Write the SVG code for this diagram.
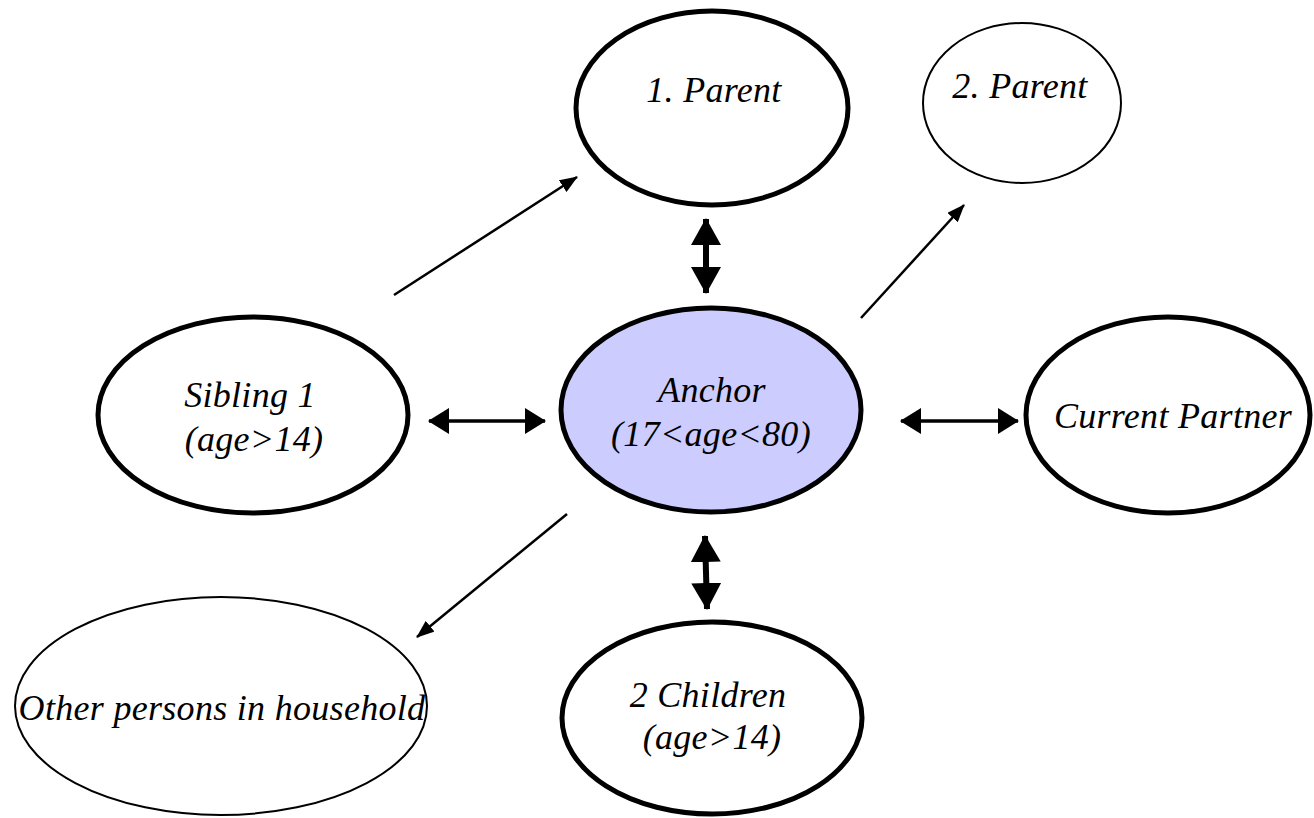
<svg xmlns="http://www.w3.org/2000/svg" width="1314" height="818" viewBox="0 0 1314 818">
<style>
.thick{fill:#fff;stroke:#000;stroke-width:5}
.thin{fill:#fff;stroke:#000;stroke-width:2}
.anchor{fill:#ccccff;stroke:#000;stroke-width:5}
.ln{stroke:#000;fill:none}
</style>
<defs>
<marker id="ah" markerUnits="userSpaceOnUse" viewBox="0 0 18 14" refX="17" refY="7" markerWidth="18" markerHeight="14" orient="auto"><path d="M0,0 L18,7 L0,14 z" fill="#000"/></marker>
<marker id="bv" markerUnits="userSpaceOnUse" viewBox="0 0 27 30" refX="26" refY="15" markerWidth="27" markerHeight="30" orient="auto-start-reverse"><path d="M0,0 L27,15 L0,30 z" fill="#000"/></marker>
<marker id="bh" markerUnits="userSpaceOnUse" viewBox="0 0 21 26" refX="20" refY="13" markerWidth="21" markerHeight="26" orient="auto-start-reverse"><path d="M0,0 L21,13 L0,26 z" fill="#000"/></marker>
</defs>
<g font-family="Liberation Serif, DejaVu Serif, serif" font-style="italic" font-size="36" text-anchor="middle" fill="#000" letter-spacing="0.3">
<g id="parent1"><ellipse class="thick" cx="712" cy="108" rx="136" ry="97"/><text x="714" y="102">1. Parent</text></g>
<g id="parent2"><ellipse class="thin" cx="1022" cy="103" rx="99" ry="80"/><text x="1020" y="98">2. Parent</text></g>
<g id="anchor"><ellipse class="anchor" cx="711" cy="410" rx="150" ry="102"/><text x="712" y="402">Anchor</text><text x="711" y="446">(17&lt;age&lt;80)</text></g>
<g id="sibling"><ellipse class="thick" cx="253" cy="415" rx="155" ry="98"/><text x="250" y="407">Sibling 1</text><text x="254" y="451">(age&gt;14)</text></g>
<g id="partner"><ellipse class="thick" cx="1168" cy="415" rx="142" ry="98"/><text x="1173" y="428">Current Partner</text></g>
<g id="children"><ellipse class="thick" cx="712" cy="718" rx="150" ry="96"/><text x="708" y="707">2 Children</text><text x="712" y="749">(age&gt;14)</text></g>
<g id="others"><ellipse class="thin" cx="221" cy="706" rx="206" ry="109"/><text x="222" y="720">Other persons in household</text></g>
</g>
<g id="connectors">
<line class="ln" stroke-width="2.5" x1="394" y1="295" x2="577" y2="177" marker-end="url(#ah)"/>
<line class="ln" stroke-width="2.5" x1="861" y1="318" x2="964" y2="205" marker-end="url(#ah)"/>
<line class="ln" stroke-width="2.5" x1="567" y1="514" x2="417" y2="637" marker-end="url(#ah)"/>
<line class="ln" stroke-width="6" x1="706" y1="219" x2="706" y2="293" marker-start="url(#bv)" marker-end="url(#bv)"/>
<line class="ln" stroke-width="6" x1="705" y1="536" x2="707" y2="609" marker-start="url(#bv)" marker-end="url(#bv)"/>
<line class="ln" stroke-width="3.5" x1="429" y1="421" x2="545" y2="421" marker-start="url(#bh)" marker-end="url(#bh)"/>
<line class="ln" stroke-width="3.5" x1="901" y1="421" x2="1018" y2="421" marker-start="url(#bh)" marker-end="url(#bh)"/>
</g>
</svg>
